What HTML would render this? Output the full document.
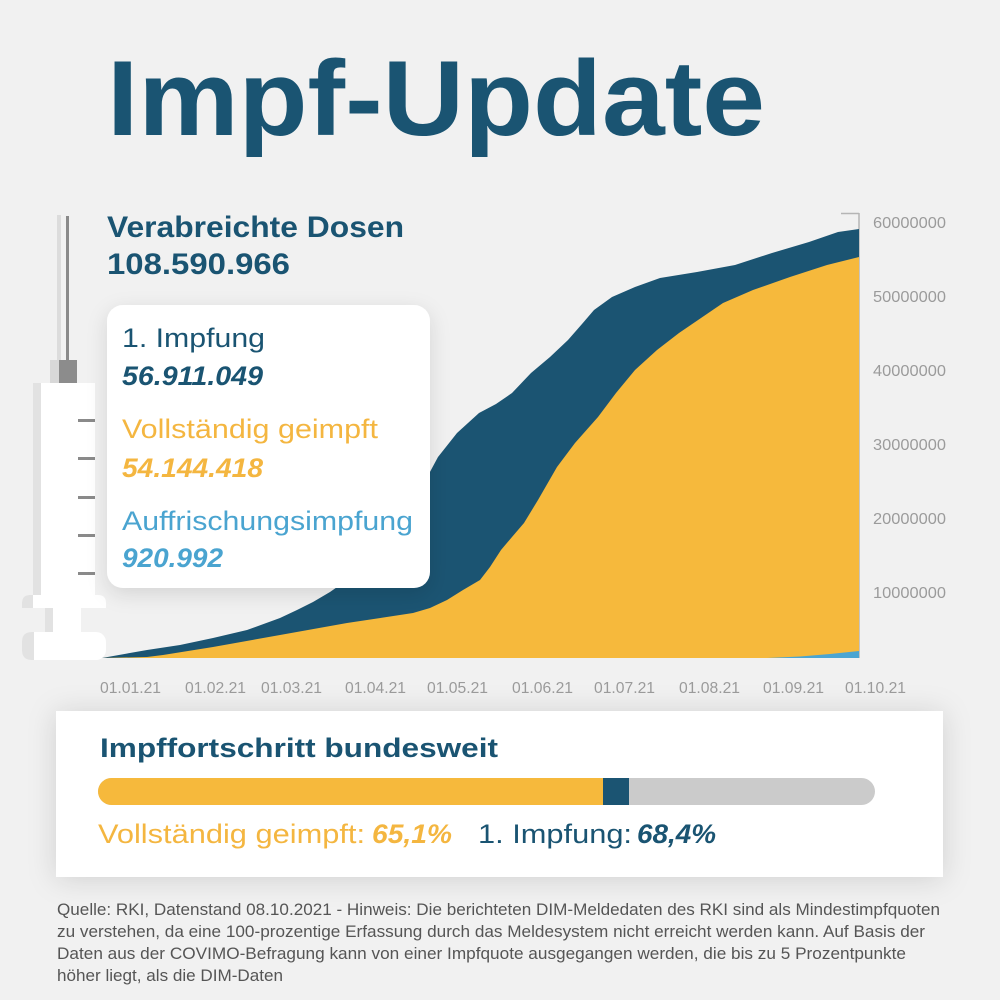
<!DOCTYPE html>
<html>
<head>
<meta charset="utf-8">
<style>
html,body{margin:0;padding:0;background:#f1f1f1;}
svg{display:block;}
text{font-family:"Liberation Sans","DejaVu Sans",sans-serif;}
</style>
</head>
<body>
<svg width="1000" height="1000" viewBox="0 0 1000 1000" xmlns="http://www.w3.org/2000/svg">
<defs>
  <filter id="sh" x="-20%" y="-20%" width="140%" height="150%">
    <feDropShadow dx="0" dy="6" stdDeviation="10" flood-color="#000" flood-opacity="0.12"/>
  </filter>
  <filter id="sh2" x="-10%" y="-40%" width="120%" height="180%">
    <feDropShadow dx="0" dy="2" stdDeviation="14" flood-color="#000" flood-opacity="0.14"/>
  </filter>
  <clipPath id="barclip"><rect x="98" y="778" width="777" height="27" rx="13.5"/></clipPath>
</defs>
<rect width="1000" height="1000" fill="#f1f1f1"/>

<!-- Title -->
<text x="107" y="135" font-size="107" font-weight="bold" fill="#1a5472" textLength="658" lengthAdjust="spacingAndGlyphs">Impf-Update</text>

<!-- Syringe -->
<g>
  <rect x="57" y="215" width="4" height="145" fill="#dcdcdc"/>
  <rect x="66" y="216" width="3" height="144" fill="#8a8a8a"/>
  <rect x="50" y="360" width="10" height="23" fill="#d8d8d8"/>
  <rect x="59" y="360" width="18" height="23" fill="#8c8c8c"/>
  <rect x="33" y="383" width="62" height="212" fill="#ffffff"/>
  <rect x="33" y="383" width="8" height="212" fill="#e2e2e2"/>
  <rect x="78" y="419" width="17" height="3" fill="#8a8a8a"/>
  <rect x="78" y="457" width="17" height="3" fill="#8a8a8a"/>
  <rect x="78" y="496" width="17" height="3" fill="#8a8a8a"/>
  <rect x="78" y="534" width="17" height="3" fill="#8a8a8a"/>
  <rect x="78" y="572" width="17" height="3" fill="#8a8a8a"/>
  <path d="M22,608 L22,603 Q22,595 30,595 L98,595 Q106,595 106,603 L106,608 Z" fill="#ffffff"/>
  <path d="M22,608 L22,603 Q22,595 30,595 L33,595 L33,608 Z" fill="#e2e2e2"/>
  <rect x="45" y="608" width="36" height="24" fill="#ffffff"/>
  <rect x="45" y="608" width="8" height="24" fill="#e2e2e2"/>
  <rect x="22" y="632" width="84" height="28" rx="10" fill="#ffffff"/>
  <path d="M32,632 L34,632 L34,660 L32,660 Q22,660 22,650 L22,642 Q22,632 32,632 Z" fill="#e2e2e2"/>
</g>

<!-- Chart axis -->
<line x1="841" y1="213.5" x2="859" y2="213.5" stroke="#b5b5b5" stroke-width="1.5"/>
<line x1="859" y1="213" x2="859" y2="658" stroke="#b5b5b5" stroke-width="1.5"/>

<!-- Dark blue area (1. Impfung) -->
<path fill="#1b5472" d="M102,658 L147,650 L180,645 L213,638 L247,630 L280,618 L297,610 L313,602 L330,592 L350,578 L370,560 L390,540 L405,520 L415,500 L424,483 L438,457 L457,433 L479,413 L496,404 L512,393 L531,373 L550,357 L568,340 L582,324 L594,310 L612,297 L635,287 L660,278 L697,272 L735,265 L772,253 L809,242 L838,232 L859,229 L859,658 Z"/>
<!-- Yellow area (vollständig) -->
<path fill="#f6b93c" d="M102,658 L147,657 L163,655 L213,647 L280,635 L347,623 L413,613 L430,608 L447,600 L463,590 L480,580 L490,567 L501,550 L512,537 L524,523 L538,500 L557,467 L575,443 L598,417 L616,393 L635,370 L657,350 L679,333 L701,318 L723,303 L753,290 L790,277 L827,265 L859,257 L859,658 Z"/>
<!-- Light blue (Auffrischung) -->
<path fill="#4ba5d2" d="M767,658 L800,656.5 L830,654 L859,651 L859,658 Z"/>

<!-- Y labels -->
<g font-size="16" fill="#9b9b9b">
  <text x="873" y="228" textLength="73" lengthAdjust="spacingAndGlyphs">60000000</text>
  <text x="873" y="302" textLength="73" lengthAdjust="spacingAndGlyphs">50000000</text>
  <text x="873" y="376" textLength="73" lengthAdjust="spacingAndGlyphs">40000000</text>
  <text x="873" y="450" textLength="73" lengthAdjust="spacingAndGlyphs">30000000</text>
  <text x="873" y="524" textLength="73" lengthAdjust="spacingAndGlyphs">20000000</text>
  <text x="873" y="598" textLength="73" lengthAdjust="spacingAndGlyphs">10000000</text>
</g>
<!-- X labels -->
<g font-size="16" fill="#9b9b9b">
  <text x="100" y="693" textLength="61" lengthAdjust="spacingAndGlyphs">01.01.21</text>
  <text x="185" y="693" textLength="61" lengthAdjust="spacingAndGlyphs">01.02.21</text>
  <text x="261" y="693" textLength="61" lengthAdjust="spacingAndGlyphs">01.03.21</text>
  <text x="345" y="693" textLength="61" lengthAdjust="spacingAndGlyphs">01.04.21</text>
  <text x="427" y="693" textLength="61" lengthAdjust="spacingAndGlyphs">01.05.21</text>
  <text x="512" y="693" textLength="61" lengthAdjust="spacingAndGlyphs">01.06.21</text>
  <text x="594" y="693" textLength="61" lengthAdjust="spacingAndGlyphs">01.07.21</text>
  <text x="679" y="693" textLength="61" lengthAdjust="spacingAndGlyphs">01.08.21</text>
  <text x="763" y="693" textLength="61" lengthAdjust="spacingAndGlyphs">01.09.21</text>
  <text x="845" y="693" textLength="61" lengthAdjust="spacingAndGlyphs">01.10.21</text>
</g>

<!-- Header text -->
<text x="107" y="237" font-size="30" font-weight="bold" fill="#1a5472" textLength="297" lengthAdjust="spacingAndGlyphs">Verabreichte Dosen</text>
<text x="107" y="274" font-size="30" font-weight="bold" fill="#1a5472" textLength="183" lengthAdjust="spacingAndGlyphs">108.590.966</text>

<!-- Info box -->
<rect x="107" y="305" width="323" height="283" rx="16" fill="#ffffff" filter="url(#sh)"/>
<text x="122" y="347" font-size="27" fill="#1a5472" textLength="143" lengthAdjust="spacingAndGlyphs">1. Impfung</text>
<text x="122" y="385" font-size="27" font-weight="bold" font-style="italic" fill="#1a5472" textLength="141" lengthAdjust="spacingAndGlyphs">56.911.049</text>
<text x="122" y="438" font-size="27" fill="#f4b640" textLength="256" lengthAdjust="spacingAndGlyphs">Vollständig geimpft</text>
<text x="122" y="477" font-size="27" font-weight="bold" font-style="italic" fill="#f4b640" textLength="141" lengthAdjust="spacingAndGlyphs">54.144.418</text>
<text x="122" y="530" font-size="27" fill="#4aa4d0" textLength="291" lengthAdjust="spacingAndGlyphs">Auffrischungsimpfung</text>
<text x="122" y="567" font-size="27" font-weight="bold" font-style="italic" fill="#4aa4d0" textLength="101" lengthAdjust="spacingAndGlyphs">920.992</text>

<!-- Bottom panel -->
<rect x="56" y="711" width="887" height="166" fill="#ffffff" filter="url(#sh2)"/>
<text x="100" y="757" font-size="27" font-weight="bold" fill="#1a5472" textLength="398" lengthAdjust="spacingAndGlyphs">Impffortschritt bundesweit</text>
<g clip-path="url(#barclip)">
  <rect x="98" y="778" width="777" height="27" fill="#cbcbcb"/>
  <rect x="98" y="778" width="506" height="27" fill="#f6b93c"/>
  <rect x="603" y="778" width="26" height="27" fill="#1b5472"/>
</g>
<text x="98" y="843" font-size="27" fill="#f4b640" textLength="267" lengthAdjust="spacingAndGlyphs">Vollständig geimpft:</text>
<text x="372" y="843" font-size="27" font-weight="bold" font-style="italic" fill="#f4b640" textLength="80" lengthAdjust="spacingAndGlyphs">65,1%</text>
<text x="478" y="843" font-size="27" fill="#1a5472" textLength="154" lengthAdjust="spacingAndGlyphs">1. Impfung:</text>
<text x="637" y="843" font-size="27" font-weight="bold" font-style="italic" fill="#1a5472" textLength="79" lengthAdjust="spacingAndGlyphs">68,4%</text>

<!-- Footer -->
<g font-size="17" fill="#555555">
  <text x="57" y="915" textLength="883" lengthAdjust="spacingAndGlyphs">Quelle: RKI, Datenstand 08.10.2021 - Hinweis: Die berichteten DIM-Meldedaten des RKI sind als Mindestimpfquoten</text>
  <text x="57" y="937" textLength="868" lengthAdjust="spacingAndGlyphs">zu verstehen, da eine 100-prozentige Erfassung durch das Meldesystem nicht erreicht werden kann. Auf Basis der</text>
  <text x="57" y="959" textLength="849" lengthAdjust="spacingAndGlyphs">Daten aus der COVIMO-Befragung kann von einer Impfquote ausgegangen werden, die bis zu 5 Prozentpunkte</text>
  <text x="57" y="981" textLength="226" lengthAdjust="spacingAndGlyphs">höher liegt, als die DIM-Daten</text>
</g>
</svg>
</body>
</html>
